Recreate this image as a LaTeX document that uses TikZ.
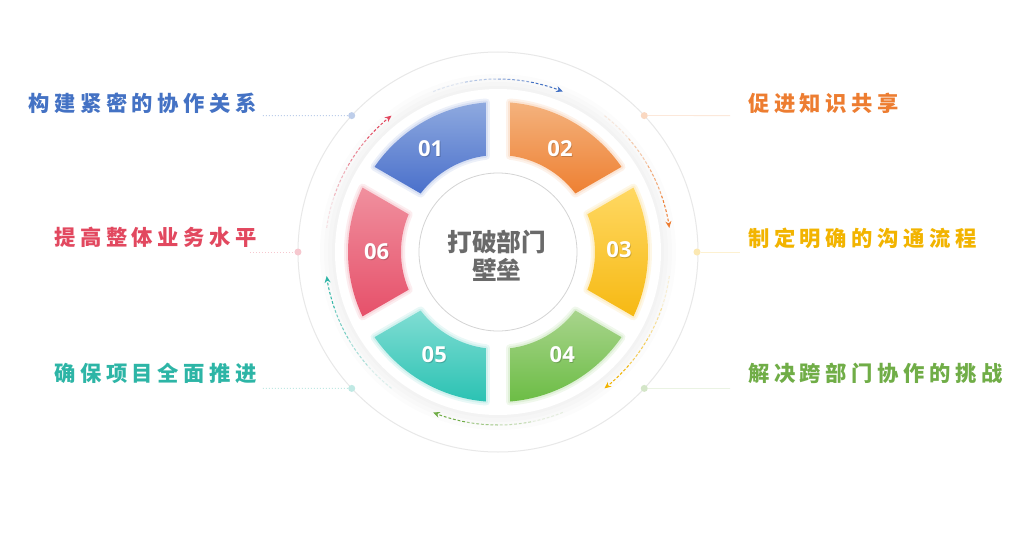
\documentclass[tikz,border=0pt]{standalone}
\usepackage{fontspec}
\setmainfont{Open Sans}
\newfontfamily\cjk{Noto Sans CJK SC}
\newfontfamily\numf{Open Sans}
\usetikzlibrary{arrows.meta}
\definecolor{c1}{HTML}{4472C4}
\definecolor{c2}{HTML}{ED7D31}
\definecolor{c3}{HTML}{F2B400}
\definecolor{c4}{HTML}{70AD47}
\definecolor{c5}{HTML}{2DB5A6}
\definecolor{c6}{HTML}{E2485F}
\definecolor{t1}{HTML}{8EA9DF}\definecolor{b1}{HTML}{4A70CB}
\definecolor{t2}{HTML}{F4B27D}\definecolor{b2}{HTML}{EE8032}
\definecolor{t3}{HTML}{FFD862}\definecolor{b3}{HTML}{F6B913}
\definecolor{t4}{HTML}{A8D48C}\definecolor{b4}{HTML}{6CBD45}
\definecolor{t5}{HTML}{80DDD3}\definecolor{b5}{HTML}{2BC2B3}
\definecolor{t6}{HTML}{F0909E}\definecolor{b6}{HTML}{E6506A}
\definecolor{ctrtext}{HTML}{6A6A6A}
\makeatletter
\newcommand\spaced[1]{\def\sp@sep{}\@tfor\sp@c:=#1\do{\sp@sep\sp@c\def\sp@sep{\kern3.4pt}}}
\makeatother
\newcommand\drawseg[4]{%
  \pgfmathsetmacro\sa{#1+4.59}\pgfmathsetmacro\sb{#2-4.59}%
  \pgfmathsetmacro\sc{#2-7.11}\pgfmathsetmacro\sd{#1+7.11}%
  \path[draw=#4, draw opacity=0.10, line width=6pt, line join=round] (\sa:150) arc[start angle=\sa, end angle=\sb, radius=150] -- (\sc:97) arc[start angle=\sc, end angle=\sd, radius=97] -- cycle;
  \path[draw=#4, draw opacity=0.12, line width=3pt, line join=round] (\sa:150) arc[start angle=\sa, end angle=\sb, radius=150] -- (\sc:97) arc[start angle=\sc, end angle=\sd, radius=97] -- cycle;
  \path[top color=#3, bottom color=#4] (\sa:150) arc[start angle=\sa, end angle=\sb, radius=150] -- (\sc:97) arc[start angle=\sc, end angle=\sd, radius=97] -- cycle;
}
\newcommand\darc[2]{%
  \foreach \k/\op in {0/0.15,1/0.4,2/0.65}{%
    \draw[darcstyle, #2, opacity=\op] ({#1+22-11*\k}:173) arc[start angle={#1+22-11*\k}, delta angle=-11, radius=173];
  }%
  \draw[darcstyle, #2, -{Stealth[length=5pt,width=4.5pt]}] ({#1-11}:173) arc[start angle={#1-11}, delta angle=-11, radius=173];
}
\begin{document}
\begin{tikzpicture}[x=0.75pt,y=0.75pt,
  darcstyle/.style={line width=0.75pt, dash pattern=on 2.1pt off 1.46pt},
  lab/.style={inner sep=0pt, font=\cjk\bfseries\fontsize{16}{19}\selectfont},
  num/.style={inner sep=0pt, text=white, font=\numf\bfseries\fontsize{16.5}{18}\selectfont},
  dot/.style={circle, inner sep=0pt, minimum size=5.25pt},
  leftline/.style={line width=0.75pt, dash pattern=on 0.75pt off 1.5pt},
  rightline/.style={line width=0.6pt}]
\useasboundingbox (-498,-284) rectangle (531,252);
\fill[white] (-498,-284) rectangle (531,252);
% outer ring
\draw[black!9, line width=0.75pt] (0,0) circle[radius=200];
% soft shadow disc
\foreach \r in {178,174,170,166}{\fill[black, opacity=0.01] (0,0) circle[radius=\r];}
\fill[white] (0,0) circle[radius=163];
% dashed arrows
\darc{90}{c1}
\darc{30}{c2}
\darc{-30}{c3}
\darc{-90}{c4}
\darc{-150}{c5}
\darc{150}{c6}
% segments
\drawseg{90}{150}{t1}{b1}
\drawseg{30}{90}{t2}{b2}
\drawseg{-30}{30}{t3}{b3}
\drawseg{-90}{-30}{t4}{b4}
\drawseg{-150}{-90}{t5}{b5}
\drawseg{150}{210}{t6}{b6}
% inner circle
\node[circle, draw=black!17, line width=0.6pt, fill=white, minimum size=118.5pt, inner sep=0pt] (core) at (0,0) {};
\node[inner sep=0pt, text=ctrtext, align=center, font=\cjk\bfseries\fontsize{18.5}{20.5}\selectfont] (ctr) at (-1,-4) {打破部门\\壁垒};
% numbers
\foreach \n/\x/\y in {01/-67.3/103.7, 02/62/103.7, 03/121/2, 04/64.3/-103, 05/-63.7/-103, 06/-121.3/0.3}{
  \node[num, text=black, opacity=0.18] at (\x+0.9,\y-0.9) {\n};
  \node[num] (n\n) at (\x,\y) {\n};
}
% dots
\node[dot, fill=c1!35] (d1) at (137:200) {};
\node[dot, fill=c2!30] (d2) at (43:200) {};
\node[dot, fill=c3!30] (d3) at (0:199) {};
\node[dot, fill=c4!30] (d4) at (-43:200) {};
\node[dot, fill=c5!30] (d5) at (-137:200) {};
\node[dot, fill=c6!30] (d6) at (180:200) {};
% line ends
\coordinate (e1) at (-235,136.4);
\coordinate (e2) at (232,136.4);
\coordinate (e3) at (242,0);
\coordinate (e4) at (232,-136.4);
\coordinate (e5) at (-235,-136.4);
\coordinate (e6) at (-248,0);
\draw[leftline, c1!35] (e1) -- (d1);
\draw[leftline, c6!30] (e6) -- (d6);
\draw[leftline, c5!30] (e5) -- (d5);
\draw[rightline, c2!18] (d2) -- (e2);
\draw[rightline, c3!18] (d3) -- (e3);
\draw[rightline, c4!15] (d4) -- (e4);
% labels
\node[lab, text=c1, anchor=east] (l1) at (-241,149) {\spaced{构建紧密的协作关系}};
\node[lab, text=c6, anchor=east] (l6) at (-241,14.5) {\spaced{提高整体业务水平}};
\node[lab, text=c5, anchor=east] (l5) at (-241,-121) {\spaced{确保项目全面推进}};
\node[lab, text=c2, anchor=west] (l2) at (250,149) {\spaced{促进知识共享}};
\node[lab, text=c3, anchor=west] (l3) at (250,14) {\spaced{制定明确的沟通流程}};
\node[lab, text=c4, anchor=west] (l4) at (250,-121) {\spaced{解决跨部门协作的挑战}};
\end{tikzpicture}
\end{document}
